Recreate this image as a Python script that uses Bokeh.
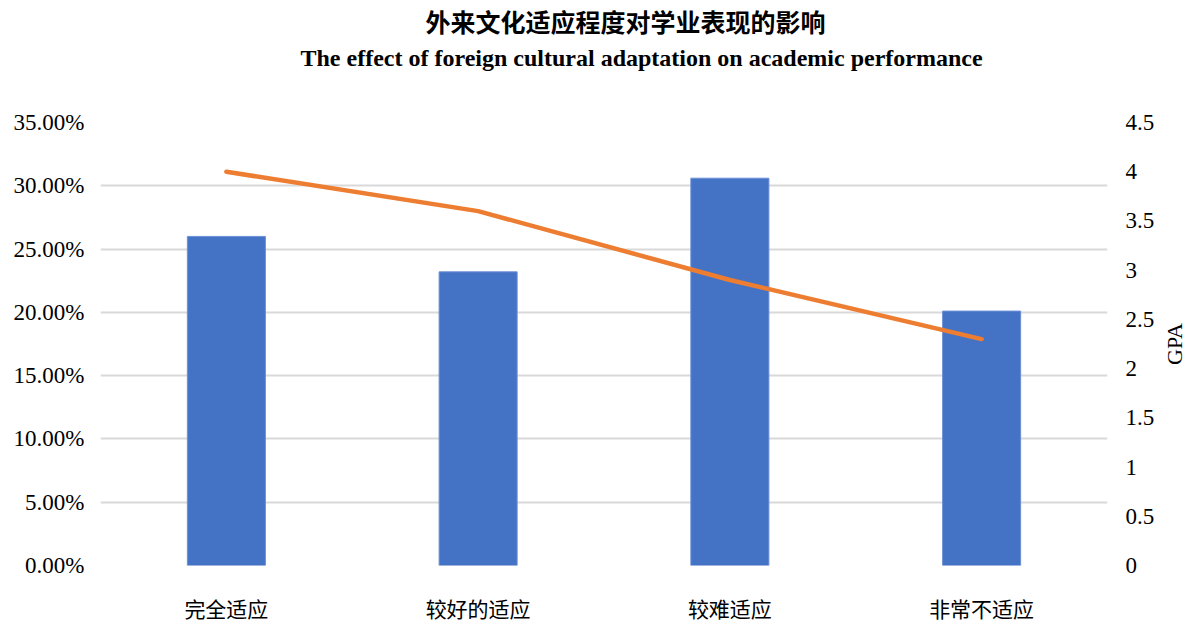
from bokeh.plotting import figure
from bokeh.layouts import row
from bokeh.models import (Range1d, LinearAxis, FactorRange, NumeralTickFormatter,
                          FixedTicker, Title)
from bokeh.embed import file_html
from bokeh.resources import INLINE

categories = ["完全适应", "较好的适应", "较难适应", "非常不适应"]
share = [0.26, 0.232, 0.306, 0.201]
gpa = [4.0, 3.6, 2.9, 2.3]
share_ticks = [0.0, 0.05, 0.10, 0.15, 0.20, 0.25, 0.30, 0.35]
gpa_ticks = [0, 0.5, 1, 1.5, 2, 2.5, 3, 3.5, 4, 4.5]
title_cn = "外来文化适应程度对学业表现的影响"
title_en = "The effect of foreign cultural adaptation on academic performance"
gpa_label = "GPA"

SERIF = "'Liberation Serif', 'Noto Sans CJK SC'"

p = figure(x_range=FactorRange(factors=categories, range_padding=0),
           y_range=Range1d(0, 0.35), width=1160, height=624, title=None,
           output_backend="svg", toolbar_location=None,
           min_border_left=100, min_border_right=53, min_border_top=122,
           min_border_bottom=56)
p.extra_y_ranges = {"gpa": Range1d(0, 4.5)}
p.outline_line_color = None
p.background_fill_color = "white"
p.border_fill_color = "white"

p.vbar(x=categories, top=share, width=0.31, fill_color="#4472C4",
       line_color="#6d8fd6", line_width=1)
p.line(x=categories, y=gpa, y_range_name="gpa", line_color="#ED7D31",
       line_width=4.5, line_cap="round", line_join="round")

p.xgrid.grid_line_color = None
p.ygrid.grid_line_color = "#d9d9d9"
p.ygrid.grid_line_width = 2

ya = p.yaxis[0]
ya.ticker = FixedTicker(ticks=share_ticks)
ya.formatter = NumeralTickFormatter(format="0.00%")
ya.axis_line_color = None
ya.major_tick_line_color = None
ya.minor_tick_line_color = None
ya.major_tick_out = 0
ya.minor_tick_out = 0
ya.major_label_standoff = 16
ya.major_label_text_font = SERIF
ya.major_label_text_font_size = "23px"
ya.major_label_text_color = "black"

ra = LinearAxis(y_range_name="gpa", ticker=FixedTicker(ticks=gpa_ticks),
                formatter=NumeralTickFormatter(format="0.[0]"))
ra.axis_line_color = None
ra.major_tick_line_color = None
ra.minor_tick_line_color = None
ra.major_tick_out = 0
ra.minor_tick_out = 0
ra.major_label_standoff = 18
ra.major_label_text_font = SERIF
ra.major_label_text_font_size = "23px"
ra.major_label_text_color = "black"
p.add_layout(ra, "right")

xa = p.xaxis[0]
xa.axis_line_color = None
xa.major_tick_line_color = None
xa.minor_tick_line_color = None
xa.major_tick_out = 0
xa.minor_tick_out = 0
xa.major_label_standoff = 32
xa.major_label_text_font = SERIF
xa.major_label_text_font_size = "21px"
xa.major_label_text_color = "black"

spacer = Title(text=" ", standoff=47, text_font_size="1px")
t_en = Title(text=title_en, align="left", offset=200, standoff=4,
             text_font=SERIF, text_font_size="24px", text_font_style="bold",
             text_color="black")
t_cn = Title(text=title_cn, align="left", offset=325, standoff=8,
             text_font=SERIF, text_font_size="25px", text_font_style="bold",
             text_color="black")
p.add_layout(spacer, "above")
p.add_layout(t_en, "above")
p.add_layout(t_cn, "above")

# narrow companion panel holding the right-hand axis title, read bottom-to-top
g = figure(width=26, height=624, output_backend="svg", toolbar_location=None,
           x_axis_type=None, y_axis_type=None, title_location="left",
           min_border_left=25, min_border_right=0, min_border_top=122,
           min_border_bottom=56)
g.title.text = gpa_label
g.title.align = "center"
g.title.standoff = 0
g.title.text_font = SERIF
g.title.text_font_size = "22px"
g.title.text_font_style = "normal"
g.title.text_color = "black"
g.outline_line_color = None
g.background_fill_color = "white"
g.border_fill_color = "white"
g.grid.visible = False

open("out.html", "w").write(file_html(row(p, g), INLINE))
